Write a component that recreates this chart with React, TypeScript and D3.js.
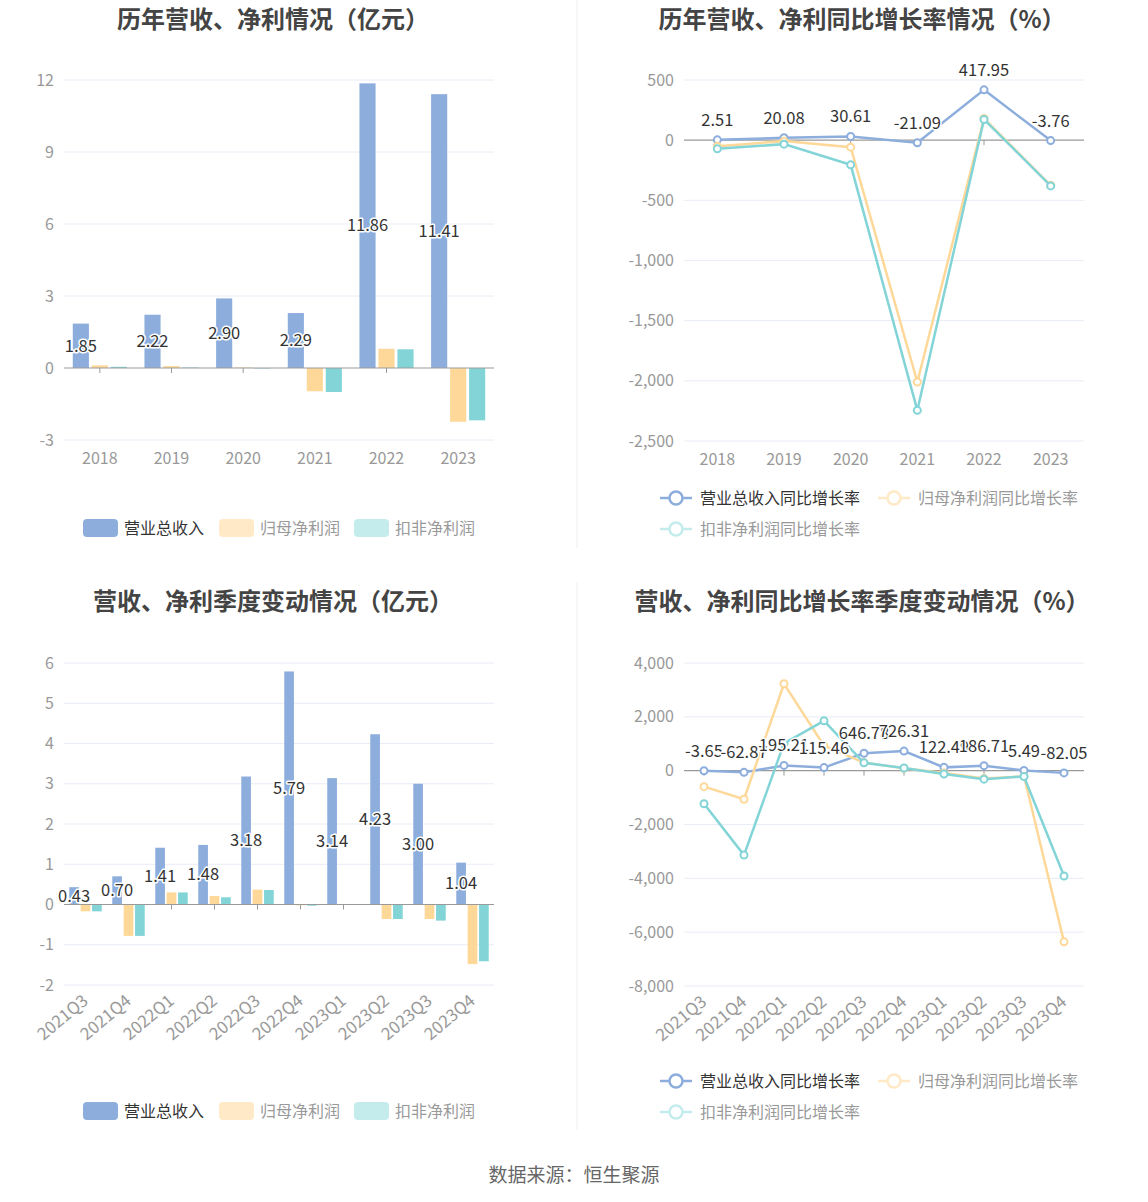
import * as d3 from 'd3';

const W = 1148;
const H = 1202;

const years = ['2018', '2019', '2020', '2021', '2022', '2023'];
const annualRevenue = [1.85, 2.22, 2.9, 2.29, 11.86, 11.41];
const annualNetProfit = [0.11, 0.08, 0.02, -0.97, 0.8, -2.24];
const annualDeducted = [0.05, 0.02, -0.02, -1.0, 0.78, -2.18];

const annualRevenueGrowth = [2.51, 20.08, 30.61, -21.09, 417.95, -3.76];
const annualNetProfitGrowth = [-50, -8, -58, -2010, 180, -375];
const annualDeductedGrowth = [-72, -33, -205, -2245, 172, -380];

const quarters = ['2021Q3', '2021Q4', '2022Q1', '2022Q2', '2022Q3', '2022Q4', '2023Q1', '2023Q2', '2023Q3', '2023Q4'];
const quarterRevenue = [0.43, 0.7, 1.41, 1.48, 3.18, 5.79, 3.14, 4.23, 3.0, 1.04];
const quarterNetProfit = [-0.17, -0.78, 0.3, 0.21, 0.37, -0.02, 0.01, -0.36, -0.36, -1.48];
const quarterDeducted = [-0.17, -0.78, 0.3, 0.18, 0.36, -0.03, -0.01, -0.36, -0.4, -1.41];

const quarterRevenueGrowth = [-3.65, -62.87, 195.21, 115.46, 646.78, 726.31, 122.49, 186.71, 5.49, -82.05];
const quarterNetProfitGrowth = [-595, -1063, 3228, 930, 300, 90, -90, -290, -210, -6360];
const quarterDeductedGrowth = [-1227, -3137, 1013, 1850, 292, 100, -125, -315, -215, -3915];

const barNames = ['营业总收入', '归母净利润', '扣非净利润'];
const lineNames = ['营业总收入同比增长率', '归母净利润同比增长率', '扣非净利润同比增长率'];

const BLUE = '#8daedd';
const ORANGE = '#fed898';
const TEAL = '#82d4d7';
const colors = [BLUE, ORANGE, TEAL];
const legendColors = ['#8daedd', '#ffe9c6', '#c4eced'];

const font = '"Noto Sans CJK SC", "Noto Sans", sans-serif';
const GRID = '#e8ecf6';
const AXIS = '#9a9a9a';
const LABEL = '#999';

const fmt = d3.formatLocale({ decimal: '.', thousands: ',', grouping: [3], currency: ['', ''], minus: '-' }).format(',');

type Panel = {
  left: number;
  right: number;
  top: number;
  bottom: number;
  domain: [number, number];
  ticks: number[];
  cats: string[];
  rotate?: boolean;
};

const BarPanel = ({ p, series }: { p: Panel; series: number[][] }) => {
  const x = d3.scaleBand().domain(p.cats).range([p.left, p.right]);
  const y = d3.scaleLinear().domain(p.domain).range([p.bottom, p.top]);
  const bw = x.bandwidth() * 0.225;
  const gap = x.bandwidth() * 0.04;
  const groupW = bw * 3 + gap * 2;
  return (
    <g>
      {p.ticks.map((t) => (
        <g key={t}>
          {t !== 0 && <line x1={p.left} x2={p.right} y1={y(t)} y2={y(t)} stroke={GRID} />}
          <text x={p.left - 10} y={y(t)} dy="0.35em" textAnchor="end" fontSize={16} fill={LABEL}>
            {fmt(t)}
          </text>
        </g>
      ))}
      {p.cats.map((c) => (
        <line key={c} x1={x(c)! + x.bandwidth() / 2} x2={x(c)! + x.bandwidth() / 2} y1={y(0)} y2={y(0) + 5} stroke={AXIS} />
      ))}
      {series.map((s, si) =>
        s.map((v, i) => {
          const x0 = x(p.cats[i])! + x.bandwidth() / 2 - groupW / 2 + si * (bw + gap);
          return (
            <rect key={si + '-' + i} x={x0} width={bw} y={Math.min(y(v), y(0))} height={Math.abs(y(v) - y(0))} fill={colors[si]} />
          );
        })
      )}
      <line x1={p.left} x2={p.right} y1={y(0)} y2={y(0)} stroke={AXIS} strokeWidth={1.2} />
      {series[0].map((v, i) => {
        const cx = x(p.cats[i])! + x.bandwidth() / 2 - groupW / 2 + bw / 2;
        return (
          <text key={i} x={cx} y={(y(v) + y(0)) / 2} dy="0.35em" textAnchor="middle" fontSize={16.5} fill="#333"
            stroke="#fff" strokeWidth={3} paintOrder="stroke" strokeLinejoin="round">
            {v.toFixed(2)}
          </text>
        );
      })}
      <XLabels p={p} x={(c) => x(c)! + x.bandwidth() / 2} />
    </g>
  );
};

const XLabels = ({ p, x }: { p: Panel; x: (c: string) => number }) => (
  <g>
    {p.cats.map((c) =>
      p.rotate ? (
        <text key={c} transform={`translate(${x(c)},${p.bottom + 13}) rotate(-40)`} dy="0.35em" textAnchor="end" fontSize={17} fill={LABEL}>
          {c}
        </text>
      ) : (
        <text key={c} x={x(c)} y={p.bottom + 24} textAnchor="middle" fontSize={16} fill={LABEL}>
          {c}
        </text>
      )
    )}
  </g>
);

const LinePanel = ({ p, series }: { p: Panel; series: number[][] }) => {
  const x = d3.scalePoint().domain(p.cats).range([p.left, p.right]).padding(0.5);
  const y = d3.scaleLinear().domain(p.domain).range([p.bottom, p.top]);
  const line = d3
    .line<number>()
    .x((_, i) => x(p.cats[i])!)
    .y((d) => y(d));
  return (
    <g>
      {p.ticks.map((t) => (
        <g key={t}>
          {t !== 0 && <line x1={p.left} x2={p.right} y1={y(t)} y2={y(t)} stroke={GRID} />}
          <text x={p.left - 10} y={y(t)} dy="0.35em" textAnchor="end" fontSize={16} fill={LABEL}>
            {fmt(t)}
          </text>
        </g>
      ))}
      <line x1={p.left} x2={p.right} y1={y(0)} y2={y(0)} stroke={AXIS} strokeWidth={1.2} />
      {p.cats.map((c) => (
        <line key={c} x1={x(c)!} x2={x(c)!} y1={y(0)} y2={y(0) + 5} stroke={AXIS} />
      ))}
      {series.map((s, si) => (
        <g key={si}>
          <path d={line(s)!} fill="none" stroke={colors[si]} strokeWidth={2.5} />
          {s.map((v, i) => (
            <circle key={i} cx={x(p.cats[i])!} cy={y(v)} r={3.5} fill="#fff" stroke={colors[si]} strokeWidth={2} />
          ))}
        </g>
      ))}
      {series[0].map((v, i) => (
        <text key={i} x={x(p.cats[i])!} y={y(v) - 14} textAnchor="middle" fontSize={16.5} fill="#333"
          stroke="#fff" strokeWidth={3} paintOrder="stroke" strokeLinejoin="round">
          {v.toFixed(2)}
        </text>
      ))}
      <XLabels p={p} x={(c) => x(c)!} />
    </g>
  );
};

const BarLegend = ({ y }: { y: number }) => {
  const xs = [83, 219, 354];
  return (
    <g>
      {barNames.map((n, i) => (
        <g key={n}>
          <rect x={xs[i]} y={y - 9} width={35} height={18} rx={4} fill={legendColors[i]} />
          <text x={xs[i] + 41} y={y} dy="0.35em" fontSize={16} fill={i === 0 ? '#333' : '#999'}>
            {n}
          </text>
        </g>
      ))}
    </g>
  );
};

const LineLegend = ({ y }: { y: number }) => {
  const pos = [
    [660, y],
    [878, y],
    [660, y + 31],
  ];
  return (
    <g>
      {lineNames.map((n, i) => (
        <g key={n}>
          <line x1={pos[i][0]} x2={pos[i][0] + 32} y1={pos[i][1]} y2={pos[i][1]} stroke={legendColors[i]} strokeWidth={2.5} />
          <circle cx={pos[i][0] + 16} cy={pos[i][1]} r={6.5} fill="#fff" stroke={legendColors[i]} strokeWidth={2.5} />
          <text x={pos[i][0] + 40} y={pos[i][1]} dy="0.35em" fontSize={16} fill={i === 0 ? '#333' : '#999'}>
            {n}
          </text>
        </g>
      ))}
    </g>
  );
};

export default function App() {
  const p1: Panel = { left: 64, right: 494, top: 80, bottom: 440, domain: [-3, 12], ticks: [-3, 0, 3, 6, 9, 12], cats: years };
  const p2: Panel = { left: 684, right: 1084, top: 80, bottom: 441, domain: [-2500, 500], ticks: [-2500, -2000, -1500, -1000, -500, 0, 500], cats: years };
  const p3: Panel = { left: 64, right: 494, top: 663, bottom: 985, domain: [-2, 6], ticks: [-2, -1, 0, 1, 2, 3, 4, 5, 6], cats: quarters, rotate: true };
  const p4: Panel = { left: 684, right: 1084, top: 663, bottom: 986, domain: [-8000, 4000], ticks: [-8000, -6000, -4000, -2000, 0, 2000, 4000], cats: quarters, rotate: true };
  return (
    <svg width={W} height={H} style={{ position: 'absolute', left: 0, top: 0, background: '#fff' }} fontFamily={font}>
      <rect width={W} height={H} fill="#fff" />
      <line x1={577} x2={577} y1={0} y2={548} stroke="#eee" />
      <line x1={577} x2={577} y1={582} y2={1130} stroke="#eee" />
      <g fontSize={24} fontWeight="bold" fill="#444" textAnchor="middle">
        <text x={273} y={28}>历年营收、净利情况（亿元）</text>
        <text x={862} y={28}>历年营收、净利同比增长率情况（%）</text>
        <text x={273} y={610}>营收、净利季度变动情况（亿元）</text>
        <text x={862} y={610}>营收、净利同比增长率季度变动情况（%）</text>
      </g>
      <BarPanel p={p1} series={[annualRevenue, annualNetProfit, annualDeducted]} />
      <LinePanel p={p2} series={[annualRevenueGrowth, annualNetProfitGrowth, annualDeductedGrowth]} />
      <BarPanel p={p3} series={[quarterRevenue, quarterNetProfit, quarterDeducted]} />
      <LinePanel p={p4} series={[quarterRevenueGrowth, quarterNetProfitGrowth, quarterDeductedGrowth]} />
      <BarLegend y={528} />
      <LineLegend y={498} />
      <BarLegend y={1111} />
      <LineLegend y={1081} />
      <text x={574} y={1182} textAnchor="middle" fontSize={19} fill="#666">
        数据来源：恒生聚源
      </text>
    </svg>
  );
}
